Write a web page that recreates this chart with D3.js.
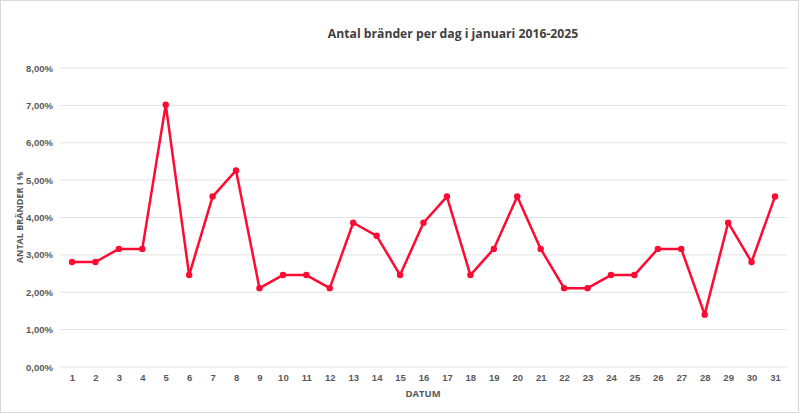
<!DOCTYPE html>
<html><head><meta charset="utf-8">
<script src="https://cdn.jsdelivr.net/npm/d3@7"></script>
<style>
html,body{margin:0;padding:0;background:#fff;}
svg{display:block;font-family:"Open Sans","Noto Sans",sans-serif;}
</style></head>
<body>
<svg id="c" width="800" height="414"></svg>
<script>
const days = d3.range(1, 32);
const values = [2.81,2.81,3.16,3.16,7.02,2.46,4.56,5.26,2.11,2.46,2.46,2.11,3.86,3.51,2.46,3.86,4.56,2.46,3.16,4.56,3.16,2.11,2.11,2.46,2.46,3.16,3.16,1.40,3.86,2.81,4.56];
const yTicks = [0,1,2,3,4,5,6,7,8];
const title = "Antal bränder per dag i januari 2016-2025";
const xTitle = "DATUM";
const yTitle = "ANTAL BRÄNDER I %";

(function(){
const svg = d3.select("#c");
svg.append("rect").attr("x",0.5).attr("y",0.5).attr("width",798).attr("height",412)
  .attr("fill","#fff").attr("stroke","#d9d9d9");

const pLeft=60, pRight=787, pTop=68, pBottom=367;
const x = d3.scalePoint().domain(days).range([72, 775]);
const y = d3.scaleLinear().domain([0,8]).range([pBottom, pTop]);

// gridlines
svg.append("g").selectAll("line").data(yTicks).join("line")
  .attr("x1",pLeft).attr("x2",pRight)
  .attr("y1",d=>y(d)).attr("y2",d=>y(d))
  .attr("stroke","#e3e3e3").attr("stroke-width",1);

// y axis
const yAxis = svg.append("g").attr("transform",`translate(${pLeft},0)`)
  .call(d3.axisLeft(y).tickValues(yTicks).tickSize(0).tickPadding(7)
    .tickFormat(d=>d.toFixed(2).replace(".",",")+"%"));
yAxis.select(".domain").remove();
yAxis.selectAll("text").attr("fill","#595959").attr("font-size","9.5px").attr("font-weight","bold");

// x axis
const xAxis = svg.append("g").attr("transform",`translate(0,${pBottom})`)
  .call(d3.axisBottom(x).tickSize(0).tickPadding(7));
xAxis.select(".domain").remove();
xAxis.selectAll("text").attr("fill","#595959").attr("font-size","9.5px").attr("font-weight","bold");

// line
const data = days.map((d,i)=>({d, v: values[i]}));
const color = "#FF0A32";
svg.append("path").datum(data)
  .attr("fill","none").attr("stroke",color).attr("stroke-width",2.5)
  .attr("stroke-linejoin","round")
  .attr("d", d3.line().x(p=>x(p.d)).y(p=>y(p.v)));
svg.append("g").selectAll("circle").data(data).join("circle")
  .attr("cx",p=>x(p.d)).attr("cy",p=>y(p.v)).attr("r",3.2).attr("fill",color);

// titles
svg.append("text").attr("x",453).attr("y",38).attr("text-anchor","middle")
  .attr("font-size","12.2px").attr("font-weight","bold").attr("fill","#404040").text(title);
svg.append("text").attr("x",423).attr("y",397).attr("text-anchor","middle")
  .attr("font-size","9.5px").attr("font-weight","bold").attr("fill","#595959").text(xTitle);
svg.append("text").attr("transform",`translate(23,${(pTop+pBottom)/2}) rotate(-90)`)
  .attr("text-anchor","middle")
  .attr("font-size","9px").attr("font-weight","bold").attr("fill","#595959").text(yTitle);
})();
</script>
</body></html>
